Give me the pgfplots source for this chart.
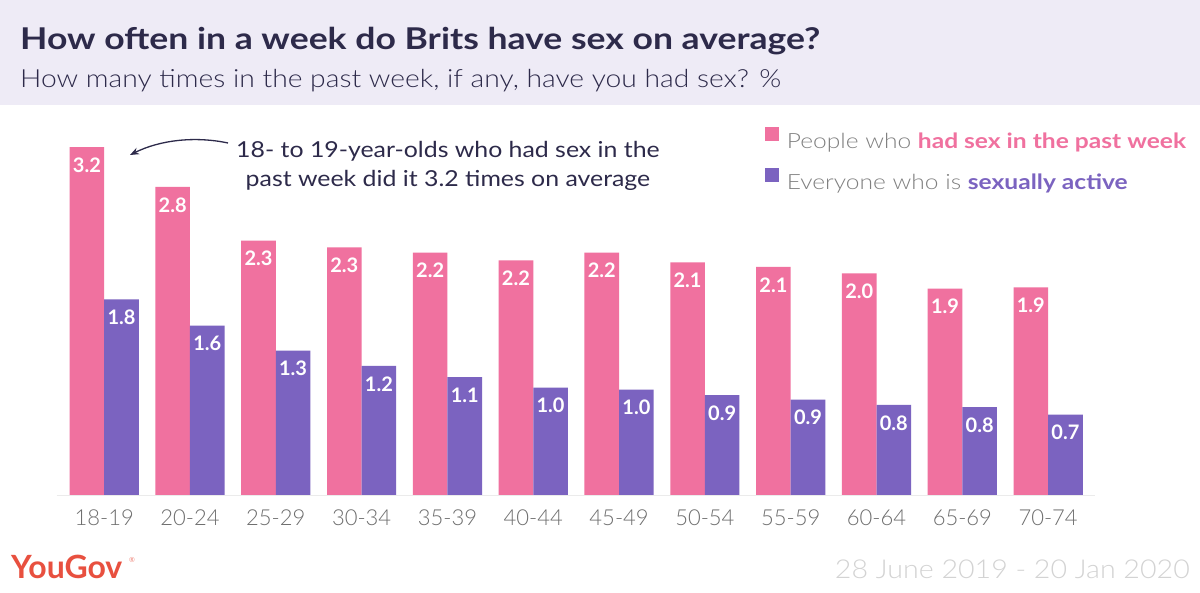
\documentclass[border=0pt]{standalone}
\usepackage{graphicx}
\usepackage{pgfplots}
\pgfplotsset{compat=1.18}
\usepackage{pgfplotstable}
\usepackage{fontspec}
\setmainfont{Lato}
\newfontfamily\lightfont{Lato Light}
\usetikzlibrary{arrows.meta}
\definecolor{pinkbar}{HTML}{F0719F}
\definecolor{purplebar}{HTML}{7B63C0}
\definecolor{titlecol}{HTML}{2D2A4A}
\definecolor{band}{HTML}{EEEBF6}
\definecolor{ticklab}{HTML}{7A7A7A}
\definecolor{leggray}{HTML}{808080}
\definecolor{ygred}{HTML}{E8503F}
\definecolor{dategray}{HTML}{D3D3D3}
\pgfplotsset{sqlegend/.style={legend image code/.code={\fill[##1] (0pt,0pt) rectangle (14pt,14pt);}}}

\pgfplotstableread{
x pink purple
0  3.20  1.80
1  2.835 1.56
2  2.34  1.33
3  2.28  1.19
4  2.23  1.085
5  2.16  0.99
6  2.23  0.97
7  2.14  0.92
8  2.10  0.88
9  2.04  0.83
10 1.90  0.81
11 1.91  0.74
}\datatable

\begin{document}
\begin{tikzpicture}[x=1pt,y=1pt]
\path[fill=white] (0,0) rectangle (1200,592);
\fill[band] (0,487) rectangle (1200,592);
\node[anchor=base west, inner sep=0pt, text=titlecol, font=\fontsize{30}{36}\selectfont\bfseries] at (20,542) {\scalebox{1.185}[1]{How often in a week do Brits have sex on average?}};
\node[anchor=base west, inner sep=0pt, text=titlecol, font=\fontsize{25}{30}\selectfont\lightfont] at (20,504) {\scalebox{1.13}[1]{How many times in the past week, if any, have you had sex? \%}};

\begin{axis}[
  at={(71.4,89)}, anchor=south west,
  scale only axis, width=1029.8pt, height=348pt,
  xmin=-0.5, xmax=11.5, ymin=0, ymax=3.2, clip=false,
  hide y axis, axis x line=bottom, x axis line style={draw=none},
  xtick={0,...,11},
  xticklabels={18-19,20-24,25-29,30-34,35-39,40-44,45-49,50-54,55-59,60-64,65-69,70-74},
  major tick length=0pt,
  xticklabel style={font=\fontsize{22}{24}\selectfont\lightfont, text=ticklab!90!black, anchor=north, inner sep=0pt, yshift=-14pt},
  ybar=0pt, bar width=34.6pt,
  nodes near coords={\pgfmathprintnumber[fixed,fixed zerofill,precision=1,assume math mode=true]{\pgfplotspointmeta}},
  nodes near coords style={text=white, font=\fontsize{20}{22}\selectfont\bfseries, anchor=center, yshift=-18pt},
  legend cell align=left,
  legend style={at={(axis description cs:0.6832,1.0580)}, anchor=north west, draw=none, fill=none,
    inner sep=0pt, outer sep=0pt, font=\fontsize{21}{24}\selectfont, row sep=18.5pt, column sep=8pt,
    nodes={inner sep=0pt, text=leggray}},
]
\addplot[fill=pinkbar, draw=none, sqlegend] table[x=x,y=pink]{\datatable};
\addlegendentry{\scalebox{1.17}[1]{{\lightfont People who }\textcolor{pinkbar}{\bfseries had sex in the past week}}}
\addplot[fill=purplebar, draw=none, sqlegend] table[x=x,y=purple]{\datatable};
\addlegendentry{\scalebox{1.17}[1]{{\lightfont Everyone who is }\textcolor{purplebar}{\bfseries sexually active}}}
\draw[black!8, line width=1pt] (axis cs:-0.55,0) -- (axis cs:11.55,0);
\end{axis}

\node[anchor=base, inner sep=0pt, text=titlecol, font=\fontsize{22}{26}\selectfont] at (448,434) {\scalebox{1.13}[1]{18- to 19-year-olds who had sex in the}};
\node[anchor=base, inner sep=0pt, text=titlecol, font=\fontsize{22}{26}\selectfont] at (448,405) {\scalebox{1.13}[1]{past week did it 3.2 times on average}};
\draw[titlecol, line width=1.3pt, -{Stealth[length=9pt,width=7pt]}] (228,449) .. controls (195,456) and (160,452) .. (130,437);

\node[anchor=base west, inner sep=0pt, text=ygred, font=\fontsize{32}{36}\selectfont\bfseries] at (11,13) {YouGov};
\node[anchor=base west, inner sep=0pt, text=ygred!70, font=\fontsize{7}{8}\selectfont] at (129,29) {\textregistered};
\node[anchor=base east, inner sep=0pt, text=dategray, font=\fontsize{26}{30}\selectfont\lightfont] at (1190,13) {\scalebox{1.1}[1]{28 June 2019 - 20 Jan 2020}};
\end{tikzpicture}
\end{document}
